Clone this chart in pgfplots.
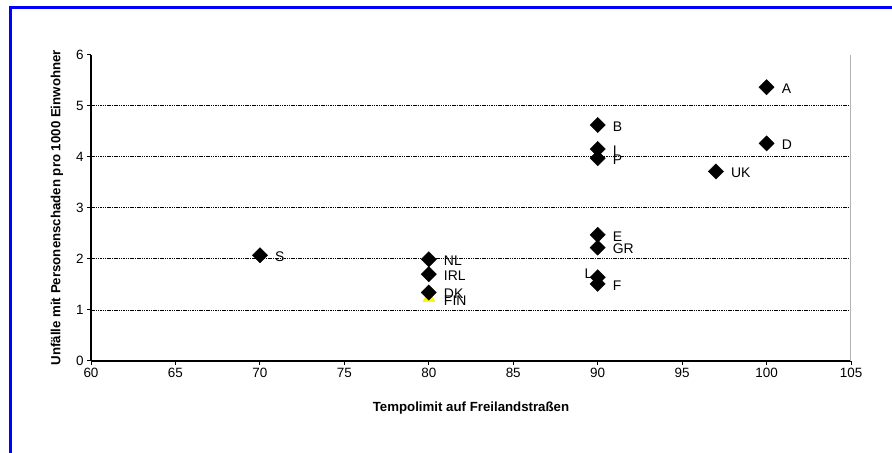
\documentclass[border=0pt]{standalone}
\usepackage{pgfplots}
\pgfplotsset{compat=1.18}
\usepackage{fontspec}
\setmainfont{Liberation Sans}
\begin{document}
\begin{tikzpicture}[x=1bp,y=1bp]
\path[use as bounding box] (0,0) rectangle (892,453);
\draw[blue, line width=3bp] (10.5,0) -- (10.5,445.5) -- (892,445.5);
\begin{axis}[
  at={(91bp,92bp)}, anchor=south west, scale only axis,
  width=760bp, height=306.5bp,
  xmin=60, xmax=105, ymin=0, ymax=6,
  xtick={60,65,...,105}, ytick={0,1,...,6},
  axis x line*=bottom, axis y line*=left,
  axis line style={line width=1.5bp, -},
  tick align=outside, major tick length=4bp,
  tick style={black, line width=1bp},
  extra y ticks={1,2,3,4,5}, extra y tick labels={},
  extra y tick style={grid=major, major tick length=0pt},
  major grid style={black, line width=0.8bp, dash pattern=on 1.5bp off 0.8bp},
  ticklabel style={font=\fontsize{13.5}{14}\selectfont},
  /pgf/number format/assume math mode=true,
  xlabel={Tempolimit auf Freilandstraßen},
  ylabel={Unfälle mit Personenschaden pro 1000 Einwohner},
  label style={font=\bfseries\fontsize{13.3}{14}\selectfont},
  xlabel style={at={([yshift=-47.5bp]axis description cs:0.5,0)}, anchor=center},
  ylabel style={at={([xshift=-34bp]axis description cs:0,0.5)}, anchor=center},
  clip=false,
]
\draw[gray!60, line width=0.5bp, double=white, double distance=0.8bp]
  (axis cs:60,6) -- (axis cs:105,6) -- (axis cs:105,0);
% FIN (yellow triangle)
\addplot[only marks, mark=triangle*, mark size=7pt,
  mark options={fill=yellow, draw=yellow},
  nodes near coords, point meta=explicit symbolic,
  every node near coord/.append style={anchor=west, inner sep=0pt, xshift=15bp, yshift=-3bp, font=\fontsize{14}{14}\selectfont, black}]
  table[meta=label] {
x y label
80 1.23 FIN
};
% main series
\addplot[only marks, mark=square*, mark size=5.4pt,
  mark options={rotate=45, fill=black, draw=black},
  nodes near coords, point meta=explicit symbolic,
  every node near coord/.append style={anchor=west, inner sep=0pt, xshift=15bp, yshift=-1.5bp, font=\fontsize{14}{14}\selectfont, black}]
  table[meta=label] {
x y label
100 5.36 A
90 4.62 B
90 4.15 I
90 3.97 P
100 4.26 D
97 3.71 UK
90 2.47 E
90 2.22 GR
70 2.07 S
80 1.99 NL
80 1.70 IRL
80 1.34 DK
90 1.51 F
};
% L (label on the left)
\addplot[only marks, mark=square*, mark size=5.4pt,
  mark options={rotate=45, fill=black, draw=black},
  nodes near coords, point meta=explicit symbolic,
  every node near coord/.append style={anchor=east, inner sep=0pt, xshift=-5bp, yshift=4bp, font=\fontsize{14}{14}\selectfont, black}]
  table[meta=label] {
x y label
90 1.64 L
};
\end{axis}
\end{tikzpicture}
\end{document}
